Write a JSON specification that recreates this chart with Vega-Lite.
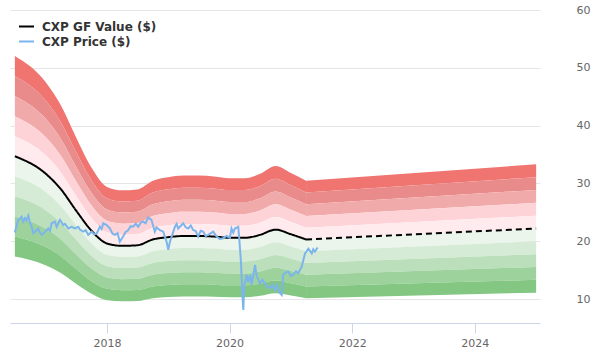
{
  "$schema": "https://vega.github.io/schema/vega-lite/v6.json",
  "width": 530,
  "height": 313,
  "autosize": "none",
  "padding": {"left": 10, "top": 10, "right": 60, "bottom": 37},
  "background": "#ffffff",
  "config": {
    "view": {"stroke": null},
    "font": "DejaVu Sans"
  },
  "datasets": {
    "gf": [
      {"seg": "hist", "d": "2016-07-01", "gf": 34.7, "u5": 52.05, "u4": 48.58, "u3": 45.11, "u2": 41.64, "u1": 38.17, "l1": 31.23, "l2": 27.76, "l3": 24.29, "l4": 20.82, "l5": 17.35},
      {"seg": "hist", "d": "2016-12-31", "gf": 31.7, "u5": 47.55, "u4": 44.38, "u3": 41.21, "u2": 38.04, "u1": 34.87, "l1": 28.53, "l2": 25.36, "l3": 22.19, "l4": 19.02, "l5": 15.85},
      {"seg": "hist", "d": "2017-04-01", "gf": 29.0, "u5": 43.5, "u4": 40.6, "u3": 37.7, "u2": 34.8, "u1": 31.9, "l1": 26.1, "l2": 23.2, "l3": 20.3, "l4": 17.4, "l5": 14.5},
      {"seg": "hist", "d": "2017-07-01", "gf": 25.3, "u5": 37.95, "u4": 35.42, "u3": 32.89, "u2": 30.36, "u1": 27.83, "l1": 22.77, "l2": 20.24, "l3": 17.71, "l4": 15.18, "l5": 12.65},
      {"seg": "hist", "d": "2017-10-01", "gf": 21.8, "u5": 32.7, "u4": 30.52, "u3": 28.34, "u2": 26.16, "u1": 23.98, "l1": 19.62, "l2": 17.44, "l3": 15.26, "l4": 13.08, "l5": 10.9},
      {"seg": "hist", "d": "2018-01-01", "gf": 19.6, "u5": 29.4, "u4": 27.44, "u3": 25.48, "u2": 23.52, "u1": 21.56, "l1": 17.64, "l2": 15.68, "l3": 13.72, "l4": 11.76, "l5": 9.8},
      {"seg": "hist", "d": "2018-04-01", "gf": 19.2, "u5": 28.8, "u4": 26.88, "u3": 24.96, "u2": 23.04, "u1": 21.12, "l1": 17.28, "l2": 15.36, "l3": 13.44, "l4": 11.52, "l5": 9.6},
      {"seg": "hist", "d": "2018-07-01", "gf": 19.3, "u5": 28.95, "u4": 27.02, "u3": 25.09, "u2": 23.16, "u1": 21.23, "l1": 17.37, "l2": 15.44, "l3": 13.51, "l4": 11.58, "l5": 9.65},
      {"seg": "hist", "d": "2018-10-01", "gf": 20.3, "u5": 30.45, "u4": 28.42, "u3": 26.39, "u2": 24.36, "u1": 22.33, "l1": 18.27, "l2": 16.24, "l3": 14.21, "l4": 12.18, "l5": 10.15},
      {"seg": "hist", "d": "2019-01-01", "gf": 20.7, "u5": 31.05, "u4": 28.98, "u3": 26.91, "u2": 24.84, "u1": 22.77, "l1": 18.63, "l2": 16.56, "l3": 14.49, "l4": 12.42, "l5": 10.35},
      {"seg": "hist", "d": "2019-04-01", "gf": 20.9, "u5": 31.35, "u4": 29.26, "u3": 27.17, "u2": 25.08, "u1": 22.99, "l1": 18.81, "l2": 16.72, "l3": 14.63, "l4": 12.54, "l5": 10.45},
      {"seg": "hist", "d": "2019-07-01", "gf": 20.9, "u5": 31.35, "u4": 29.26, "u3": 27.17, "u2": 25.08, "u1": 22.99, "l1": 18.81, "l2": 16.72, "l3": 14.63, "l4": 12.54, "l5": 10.45},
      {"seg": "hist", "d": "2019-10-01", "gf": 20.8, "u5": 31.2, "u4": 29.12, "u3": 27.04, "u2": 24.96, "u1": 22.88, "l1": 18.72, "l2": 16.64, "l3": 14.56, "l4": 12.48, "l5": 10.4},
      {"seg": "hist", "d": "2020-01-01", "gf": 20.6, "u5": 30.9, "u4": 28.84, "u3": 26.78, "u2": 24.72, "u1": 22.66, "l1": 18.54, "l2": 16.48, "l3": 14.42, "l4": 12.36, "l5": 10.3},
      {"seg": "hist", "d": "2020-04-01", "gf": 20.6, "u5": 30.9, "u4": 28.84, "u3": 26.78, "u2": 24.72, "u1": 22.66, "l1": 18.54, "l2": 16.48, "l3": 14.42, "l4": 12.36, "l5": 10.3},
      {"seg": "hist", "d": "2020-07-01", "gf": 21.1, "u5": 31.65, "u4": 29.54, "u3": 27.43, "u2": 25.32, "u1": 23.21, "l1": 18.99, "l2": 16.88, "l3": 14.77, "l4": 12.66, "l5": 10.55},
      {"seg": "hist", "d": "2020-10-01", "gf": 22.0, "u5": 33.0, "u4": 30.8, "u3": 28.6, "u2": 26.4, "u1": 24.2, "l1": 19.8, "l2": 17.6, "l3": 15.4, "l4": 13.2, "l5": 11.0},
      {"seg": "hist", "d": "2021-01-01", "gf": 21.2, "u5": 31.8, "u4": 29.68, "u3": 27.56, "u2": 25.44, "u1": 23.32, "l1": 19.08, "l2": 16.96, "l3": 14.84, "l4": 12.72, "l5": 10.6},
      {"seg": "hist", "d": "2021-04-01", "gf": 20.3, "u5": 30.45, "u4": 28.42, "u3": 26.39, "u2": 24.36, "u1": 22.33, "l1": 18.27, "l2": 16.24, "l3": 14.21, "l4": 12.18, "l5": 10.15},
      {"seg": "proj", "d": "2021-04-01", "gf": 20.3, "u5": 30.45, "u4": 28.42, "u3": 26.39, "u2": 24.36, "u1": 22.33, "l1": 18.27, "l2": 16.24, "l3": 14.21, "l4": 12.18, "l5": 10.15},
      {"seg": "proj", "d": "2025-01-01", "gf": 22.2, "u5": 33.3, "u4": 31.08, "u3": 28.86, "u2": 26.64, "u1": 24.42, "l1": 19.98, "l2": 17.76, "l3": 15.54, "l4": 13.32, "l5": 11.1}
    ],
    "price": [
      {"d": "2016-07-01", "p": 21.5}, {"d": "2016-07-11", "p": 22.6}, {"d": "2016-07-21", "p": 23.7}, {"d": "2016-07-31", "p": 23.9}, {"d": "2016-08-10", "p": 24.25}, {"d": "2016-08-20", "p": 23.4}, {"d": "2016-08-30", "p": 24.0},
      {"d": "2016-09-09", "p": 23.6}, {"d": "2016-09-19", "p": 24.4}, {"d": "2016-09-29", "p": 23.2}, {"d": "2016-10-09", "p": 22.5}, {"d": "2016-10-19", "p": 21.4}, {"d": "2016-10-29", "p": 21.65}, {"d": "2016-11-17", "p": 22.2},
      {"d": "2016-11-27", "p": 21.5}, {"d": "2016-12-08", "p": 21.1}, {"d": "2016-12-28", "p": 21.65}, {"d": "2017-01-16", "p": 22.2}, {"d": "2017-01-26", "p": 21.8}, {"d": "2017-02-05", "p": 23.1},
      {"d": "2017-02-25", "p": 23.4}, {"d": "2017-03-07", "p": 22.5}, {"d": "2017-03-27", "p": 23.7}, {"d": "2017-04-16", "p": 22.8}, {"d": "2017-04-26", "p": 23.0},
      {"d": "2017-05-15", "p": 22.2}, {"d": "2017-06-04", "p": 22.5}, {"d": "2017-06-24", "p": 22.2}, {"d": "2017-07-14", "p": 22.5}, {"d": "2017-07-24", "p": 22.0},
      {"d": "2017-08-12", "p": 21.65}, {"d": "2017-08-27", "p": 21.9}, {"d": "2017-09-11", "p": 21.1}, {"d": "2017-10-01", "p": 21.65}, {"d": "2017-10-16", "p": 21.2}, {"d": "2017-10-31", "p": 21.3},
      {"d": "2017-11-20", "p": 22.5}, {"d": "2017-11-30", "p": 22.1}, {"d": "2017-12-10", "p": 23.1}, {"d": "2017-12-30", "p": 22.8}, {"d": "2018-01-19", "p": 22.2}, {"d": "2018-02-03", "p": 21.3},
      {"d": "2018-02-18", "p": 21.1}, {"d": "2018-03-05", "p": 21.4}, {"d": "2018-03-18", "p": 19.9}, {"d": "2018-04-07", "p": 20.8}, {"d": "2018-04-22", "p": 21.6}, {"d": "2018-05-07", "p": 21.9},
      {"d": "2018-05-22", "p": 22.6}, {"d": "2018-06-06", "p": 22.5}, {"d": "2018-06-21", "p": 23.0}, {"d": "2018-07-06", "p": 22.5}, {"d": "2018-07-21", "p": 23.2}, {"d": "2018-08-04", "p": 23.4}, {"d": "2018-08-19", "p": 23.1}, {"d": "2018-09-03", "p": 24.1},
      {"d": "2018-09-23", "p": 23.7}, {"d": "2018-10-13", "p": 21.65}, {"d": "2018-10-23", "p": 22.4}, {"d": "2018-11-12", "p": 21.9}, {"d": "2018-12-02", "p": 21.65},
      {"d": "2018-12-22", "p": 19.9}, {"d": "2019-01-01", "p": 18.5}, {"d": "2019-01-11", "p": 19.9}, {"d": "2019-02-10", "p": 22.5}, {"d": "2019-02-20", "p": 23.0},
      {"d": "2019-03-01", "p": 22.2}, {"d": "2019-03-31", "p": 23.1}, {"d": "2019-04-15", "p": 22.4}, {"d": "2019-04-30", "p": 22.2}, {"d": "2019-05-15", "p": 22.7}, {"d": "2019-05-30", "p": 21.9},
      {"d": "2019-06-13", "p": 21.8}, {"d": "2019-06-28", "p": 20.8}, {"d": "2019-07-13", "p": 21.8}, {"d": "2019-07-28", "p": 21.65}, {"d": "2019-08-12", "p": 20.9}, {"d": "2019-08-27", "p": 21.1}, {"d": "2019-09-26", "p": 21.65},
      {"d": "2019-10-16", "p": 20.8}, {"d": "2019-11-04", "p": 20.4}, {"d": "2019-11-24", "p": 20.5}, {"d": "2019-12-14", "p": 20.9}, {"d": "2020-01-03", "p": 20.6}, {"d": "2020-01-13", "p": 22.2},
      {"d": "2020-01-23", "p": 21.5}, {"d": "2020-02-02", "p": 22.2}, {"d": "2020-02-22", "p": 22.5}, {"d": "2020-02-28", "p": 20.5}, {"d": "2020-03-09", "p": 16.45},
      {"d": "2020-03-17", "p": 11.3}, {"d": "2020-03-23", "p": 8.1}, {"d": "2020-03-29", "p": 12.4}, {"d": "2020-04-05", "p": 13.2}, {"d": "2020-04-12", "p": 14.2}, {"d": "2020-04-22", "p": 12.9},
      {"d": "2020-05-02", "p": 14.2}, {"d": "2020-05-12", "p": 12.5}, {"d": "2020-06-01", "p": 15.9}, {"d": "2020-06-11", "p": 13.9}, {"d": "2020-06-21", "p": 13.4},
      {"d": "2020-07-01", "p": 12.7}, {"d": "2020-07-15", "p": 13.3}, {"d": "2020-07-30", "p": 12.7}, {"d": "2020-08-14", "p": 12.1}, {"d": "2020-08-29", "p": 11.85}, {"d": "2020-09-13", "p": 12.5}, {"d": "2020-09-28", "p": 11.56},
      {"d": "2020-10-08", "p": 12.4}, {"d": "2020-10-28", "p": 11.0}, {"d": "2020-11-07", "p": 10.7}, {"d": "2020-11-16", "p": 14.2}, {"d": "2020-12-01", "p": 14.6},
      {"d": "2020-12-16", "p": 14.75}, {"d": "2020-12-31", "p": 14.0}, {"d": "2021-01-15", "p": 14.2}, {"d": "2021-01-30", "p": 14.8}, {"d": "2021-02-14", "p": 14.5}, {"d": "2021-03-06", "p": 15.6},
      {"d": "2021-03-26", "p": 17.9}, {"d": "2021-04-15", "p": 18.7}, {"d": "2021-05-05", "p": 17.9}, {"d": "2021-05-14", "p": 18.6}, {"d": "2021-05-24", "p": 18.2},
      {"d": "2021-06-09", "p": 18.9}
    ]
  },
  "encoding": {
    "x": {
      "field": "d", "type": "temporal",
      "scale": {"domain": ["2016-06-02", "2025-01-24"]},
      "axis": {
        "title": null, "format": "%Y", "grid": false,
        "values": ["2018-01-01", "2020-01-01", "2022-01-01", "2024-01-01"],
        "domainColor": "#ccd6eb", "tickColor": "#ccd6eb", "tickSize": 10,
        "labelColor": "#666666", "labelFontSize": 11, "labelPadding": 4
      }
    }
  },
  "layer": [
    {"data": {"name": "gf"}, "mark": {"type": "area", "interpolate": "monotone", "color": "#f07470", "opacity": 1},
     "encoding": {"detail": {"field": "seg"}, "y": {"field": "u5", "type": "quantitative", "scale": {"domain": [5.85, 60], "nice": false, "zero": false},
       "axis": {"orient": "right", "title": null, "values": [10, 20, 30, 40, 50, 60], "grid": true, "gridColor": "#e6e6e6", "domain": false, "ticks": false, "labelColor": "#666666", "labelFontSize": 11, "labelAlign": "left", "labelPadding": 36}},
       "y2": {"field": "u4"}}},
    {"data": {"name": "gf"}, "mark": {"type": "area", "interpolate": "monotone", "color": "#e98b8b", "opacity": 1},
     "encoding": {"detail": {"field": "seg"}, "y": {"field": "u4", "type": "quantitative"}, "y2": {"field": "u3"}}},
    {"data": {"name": "gf"}, "mark": {"type": "area", "interpolate": "monotone", "color": "#f1aaaa", "opacity": 1},
     "encoding": {"detail": {"field": "seg"}, "y": {"field": "u3", "type": "quantitative"}, "y2": {"field": "u2"}}},
    {"data": {"name": "gf"}, "mark": {"type": "area", "interpolate": "monotone", "color": "#fdd3d8", "opacity": 1},
     "encoding": {"detail": {"field": "seg"}, "y": {"field": "u2", "type": "quantitative"}, "y2": {"field": "u1"}}},
    {"data": {"name": "gf"}, "mark": {"type": "area", "interpolate": "monotone", "color": "#ffebee", "opacity": 1},
     "encoding": {"detail": {"field": "seg"}, "y": {"field": "u1", "type": "quantitative"}, "y2": {"field": "gf"}}},
    {"data": {"name": "gf"}, "mark": {"type": "area", "interpolate": "monotone", "color": "#ebf5eb", "opacity": 1},
     "encoding": {"detail": {"field": "seg"}, "y": {"field": "gf", "type": "quantitative"}, "y2": {"field": "l1"}}},
    {"data": {"name": "gf"}, "mark": {"type": "area", "interpolate": "monotone", "color": "#d5ebd5", "opacity": 1},
     "encoding": {"detail": {"field": "seg"}, "y": {"field": "l1", "type": "quantitative"}, "y2": {"field": "l2"}}},
    {"data": {"name": "gf"}, "mark": {"type": "area", "interpolate": "monotone", "color": "#badfba", "opacity": 1},
     "encoding": {"detail": {"field": "seg"}, "y": {"field": "l2", "type": "quantitative"}, "y2": {"field": "l3"}}},
    {"data": {"name": "gf"}, "mark": {"type": "area", "interpolate": "monotone", "color": "#9dd29d", "opacity": 1},
     "encoding": {"detail": {"field": "seg"}, "y": {"field": "l3", "type": "quantitative"}, "y2": {"field": "l4"}}},
    {"data": {"name": "gf"}, "mark": {"type": "area", "interpolate": "monotone", "color": "#83c783", "opacity": 1},
     "encoding": {"detail": {"field": "seg"}, "y": {"field": "l4", "type": "quantitative"}, "y2": {"field": "l5"}}},
    {"data": {"name": "gf"},
     "mark": {"type": "line", "interpolate": "monotone", "strokeWidth": 2},
     "encoding": {"y": {"field": "gf", "type": "quantitative"},
       "strokeDash": {"field": "seg", "type": "nominal", "scale": {"domain": ["hist", "proj"], "range": [[1, 0], [6, 4]]}, "legend": null},
       "color": {"datum": "CXP GF Value ($)", "type": "nominal",
         "scale": {"domain": ["CXP GF Value ($)", "CXP Price ($)"], "range": ["#000000", "#7cb5ec"]},
         "legend": {"title": null, "orient": "none", "legendX": 8, "legendY": 8, "symbolType": "stroke", "symbolStrokeWidth": 2, "symbolSize": 225, "labelFontSize": 12, "labelFontWeight": "bold", "labelColor": "#333333", "rowPadding": -4, "labelOffset": 7}}}},
    {"data": {"name": "price"},
     "mark": {"type": "line", "strokeWidth": 2},
     "encoding": {"y": {"field": "p", "type": "quantitative"}, "color": {"datum": "CXP Price ($)", "type": "nominal"}}}
  ]
}
